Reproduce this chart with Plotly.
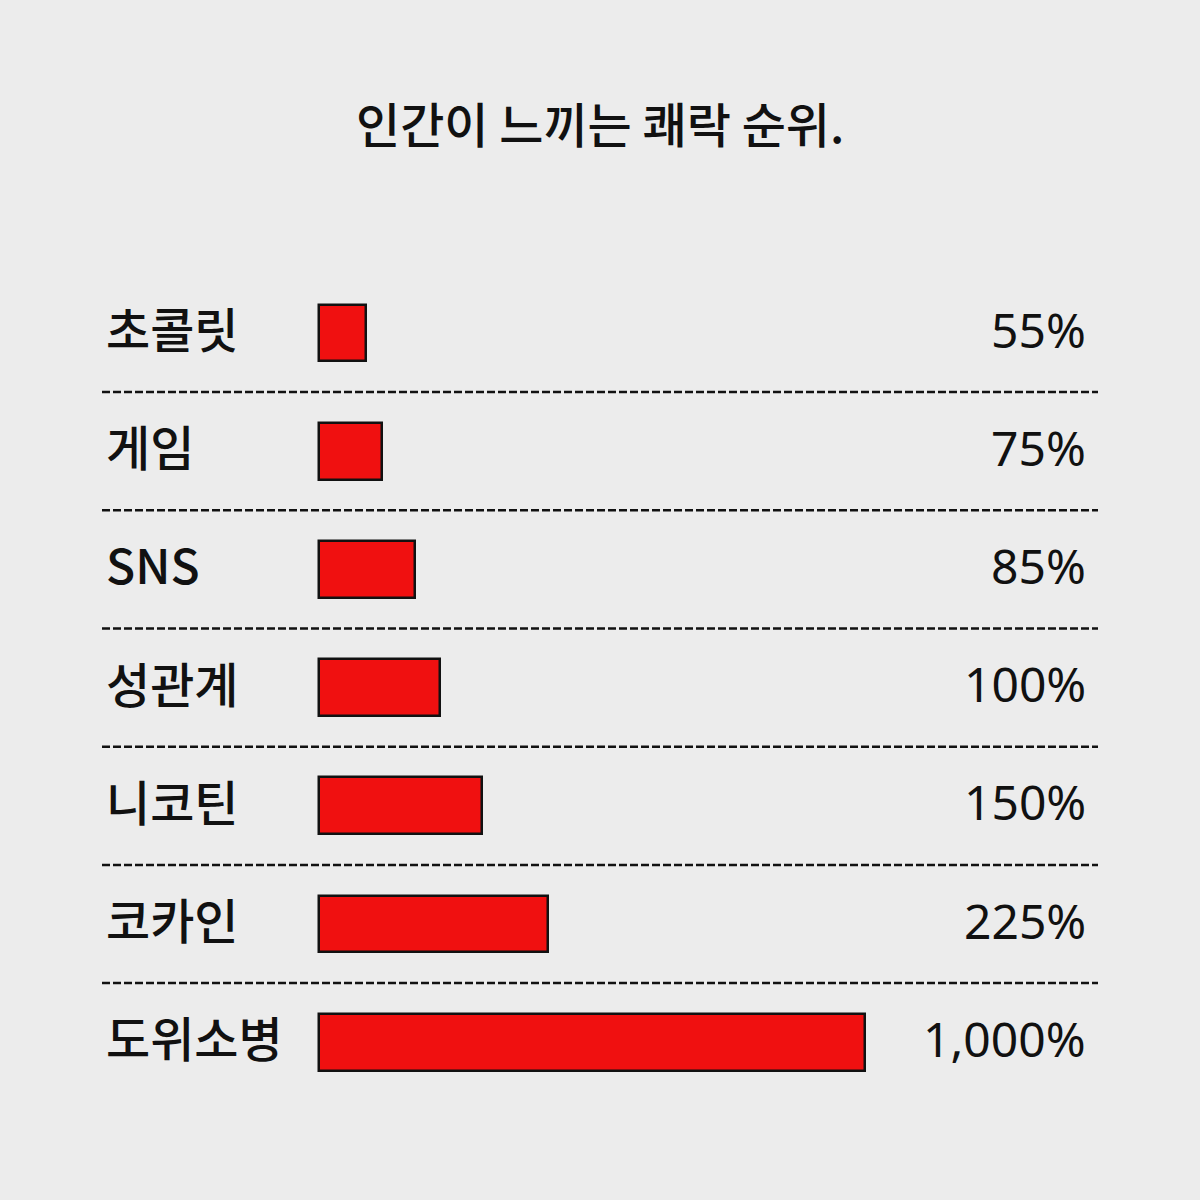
import plotly.graph_objects as go

# Data
categories = ["초콜릿", "게임", "SNS", "성관계", "니코틴", "코카인", "도위소병"]
value_labels = ["55%", "75%", "85%", "100%", "150%", "225%", "1,000%"]
# Bar magnitudes as drawn in the picture (relative display units, not proportional to labels)
bar_display = [47, 63, 96, 121, 163, 229, 546]
title_text = "인간이 느끼는 쾌락 순위."

FONT = "Noto Sans CJK KR"
NUM_FONT = "Noto Sans"
n = len(categories)
idx = list(range(n))

W, H = 1200, 1200
bar_left_px = 319
row0_px = 333
row_step = 118.2

fig = go.Figure()
fig.add_trace(go.Bar(
    x=bar_display, y=idx, orientation="h",
    marker=dict(color="#f01010", line=dict(color="#111111", width=2.5)),
    width=0.48, hoverinfo="skip", showlegend=False,
))

annotations = []
for i in idx:
    annotations.append(dict(x=104 / W, xref="paper", y=i, yref="y", text=categories[i],
                            showarrow=False, xanchor="left", yanchor="middle", yshift=6,
                            font=dict(family=FONT, size=48, color="#111111", weight=500)))
    annotations.append(dict(x=1088 / W, xref="paper", y=i, yref="y", text=value_labels[i],
                            showarrow=False, xanchor="right", yanchor="middle", yshift=4,
                            font=dict(family=NUM_FONT, size=48, color="#111111", weight=400)))
annotations.append(dict(x=0.5, xref="paper", y=1 - 122 / H, yref="paper", text=title_text,
                        showarrow=False, xanchor="center", yanchor="middle",
                        font=dict(family=FONT, size=48, color="#111111", weight=500)))

shapes = []
for i in idx[:-1]:
    shapes.append(dict(type="line", xref="paper", yref="y", x0=102 / W, x1=1098 / W,
                       y0=i + 0.5, y1=i + 0.5,
                       line=dict(color="#111111", width=2.5, dash="8px,3px")))

fig.update_layout(
    width=W, height=H,
    margin=dict(l=0, r=0, t=0, b=0),
    paper_bgcolor="#ececec", plot_bgcolor="#ececec",
    xaxis=dict(range=[-bar_left_px, W - bar_left_px], visible=False, fixedrange=True),
    yaxis=dict(range=[(H - row0_px) / row_step, -row0_px / row_step], visible=False, fixedrange=True),
    annotations=annotations, shapes=shapes,
    bargap=0,
)

fig.write_html(
    "out.html",
    config={"displayModeBar": False},
    post_script="document.body.style.margin='0';document.body.style.padding='0';"
                "document.body.style.overflow='hidden';document.body.style.background='#ececec';",
)
